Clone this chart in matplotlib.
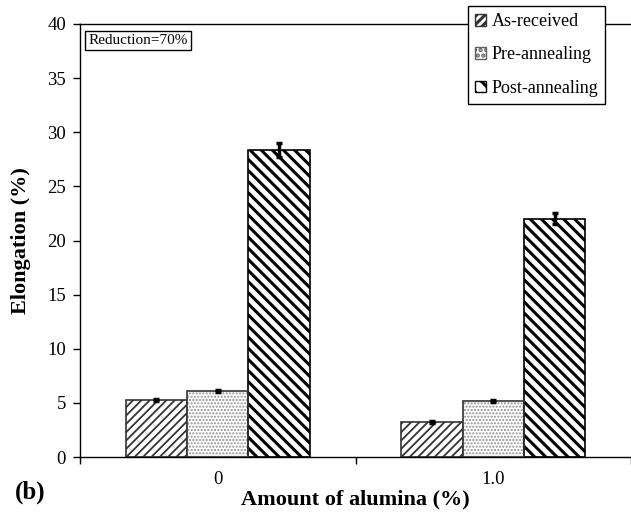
import matplotlib
matplotlib.use('Agg')
import matplotlib.pyplot as plt
import numpy as np

# data
alumina = ['0', '1.0']
as_received = [5.3, 3.2]
pre_annealing = [6.1, 5.2]
post_annealing = [28.4, 22.0]
err_as = [0.1, 0.1]
err_pre = [0.1, 0.1]
err_post = [0.65, 0.5]
series_names = ['As-received', 'Pre-annealing', 'Post-annealing']

plt.rcParams['font.family'] = ['Liberation Serif', 'DejaVu Serif']

fig = plt.figure(figsize=(6.31, 5.14), dpi=100)
ax = fig.add_axes([80/631, 57/514, 551/631, 433/514])

x = np.arange(len(alumina))
w = 0.223
edge = '#333333'

plt.rcParams['hatch.linewidth'] = 1.3
b1 = ax.bar(x - w, as_received, w, color='white', edgecolor=edge, linewidth=1.2,
            hatch='////', label=series_names[0], zorder=2)
plt.rcParams['hatch.linewidth'] = 1.0
b2 = ax.bar(x, pre_annealing, w, color='white', edgecolor='#909090', linewidth=0,
            hatch='.....', zorder=2)
ax.bar(x, pre_annealing, w, fill=False, edgecolor=edge, linewidth=1.2, zorder=3)
plt.rcParams['hatch.linewidth'] = 2.2
b3 = ax.bar(x + w, post_annealing, w, color='white', edgecolor='black', linewidth=1.2,
            hatch='\\\\\\', label=series_names[2], zorder=2)

for xs, ys, es in [(x - w, as_received, err_as), (x, pre_annealing, err_pre),
                   (x + w, post_annealing, err_post)]:
    ax.errorbar(xs, ys, yerr=es, fmt='none', ecolor='black', elinewidth=2.5,
                capsize=2, capthick=2.5, zorder=4)

ax.set_xlim(-0.5, 1.5)
ax.set_ylim(0, 40)
ax.set_yticks(range(0, 41, 5))
ax.set_xticks(x)
ax.set_xticklabels(alumina)
ax.set_xticks([-0.5, 0.5, 1.5], minor=True)
ax.tick_params(axis='x', which='major', length=0, labelsize=13.5, pad=10)
ax.tick_params(axis='x', which='minor', length=5, width=1, direction='out')
ax.tick_params(axis='y', length=5, width=1, direction='out', labelsize=13.5, pad=5)
ax.spines['right'].set_visible(False)
for s in ['left', 'bottom', 'top']:
    ax.spines[s].set_linewidth(1)

ax.set_xlabel('Amount of alumina (%)', fontsize=16, fontweight='bold', labelpad=1)
ax.set_ylabel('Elongation (%)', fontsize=16, fontweight='bold', labelpad=12)

ax.text(0.015, 0.976, 'Reduction=70%', transform=ax.transAxes, fontsize=11,
        va='top', ha='left',
        bbox=dict(boxstyle='square,pad=0.2', facecolor='white', edgecolor='black', linewidth=1))

fig.text(15/631, 1 - 492/514, '(b)', fontsize=18, fontweight='bold', va='center', ha='left')

handles = [plt.Rectangle((0, 0), 1, 1, facecolor='white', edgecolor=edge, hatch='////'),
           plt.Rectangle((0, 0), 1, 1, facecolor='white', edgecolor='#606060', hatch='...'),
           plt.Rectangle((0, 0), 1, 1, facecolor='white', edgecolor='black', hatch='\\\\')]
leg = fig.legend(handles, series_names, loc='upper left',
                 bbox_to_anchor=(468/631, 1 - 6/514), fontsize=13, frameon=True,
                 fancybox=False, framealpha=1, edgecolor='black', handlelength=0.6,
                 handleheight=0.6, handletextpad=0.3, labelspacing=0.9, borderpad=0.4,
                 borderaxespad=0)
leg.get_frame().set_linewidth(1)

fig.savefig('out.png', dpi=100, facecolor='white')
